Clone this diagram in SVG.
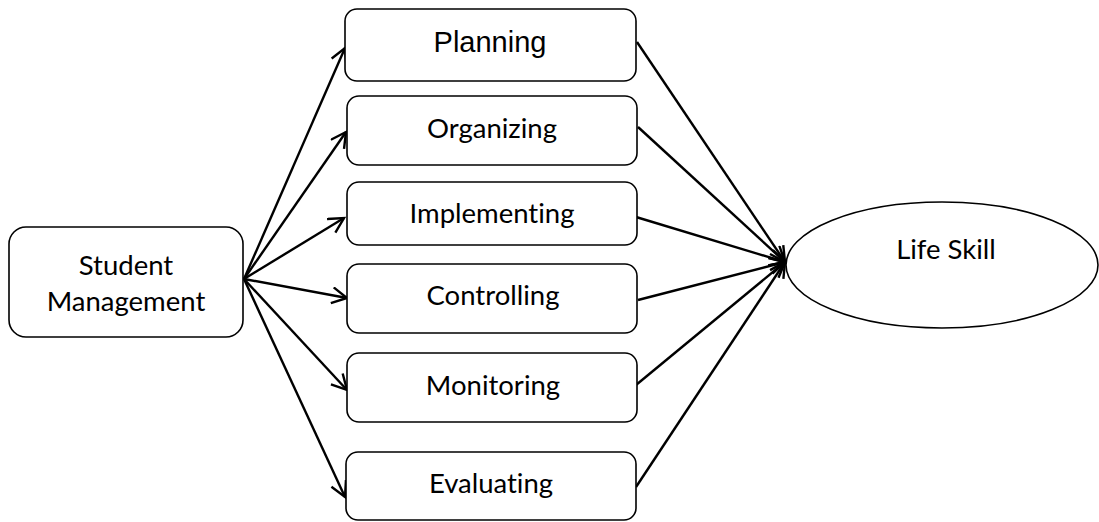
<svg xmlns="http://www.w3.org/2000/svg" width="1099" height="522" viewBox="0 0 1099 522">
<style>
.box{fill:#fff;stroke:#000;stroke-width:1.6}
.lbl{font-family:Lato,"Open Sans",sans-serif;font-size:27.5px;fill:#000;text-anchor:middle;font-variant-ligatures:none;font-feature-settings:"liga" 0}
.arial{font-family:"Liberation Sans",Arial,sans-serif;font-size:29px;fill:#000;text-anchor:middle}
.con{stroke:#000;stroke-width:2.4;fill:none;marker-end:url(#arr)}
</style>
<defs>
<marker id="arr" markerUnits="userSpaceOnUse" markerWidth="22" markerHeight="22" refX="16" refY="9" orient="auto">
<path d="M1,1 L16,9 L1,17" fill="none" stroke="#000" stroke-width="2.4"/>
</marker>
</defs>
<g id="connectors">
<line class="con" x1="244" y1="279" x2="345" y2="48"/>
<line class="con" x1="244" y1="279" x2="346" y2="132"/>
<line class="con" x1="244" y1="279" x2="344" y2="218"/>
<line class="con" x1="244" y1="279" x2="347" y2="298"/>
<line class="con" x1="244" y1="279" x2="347" y2="390"/>
<line class="con" x1="244" y1="279" x2="345" y2="497"/>
<line class="con" x1="637" y1="42" x2="785" y2="262"/>
<line class="con" x1="638" y1="127" x2="785" y2="262"/>
<line class="con" x1="636" y1="217" x2="785" y2="262"/>
<line class="con" x1="638" y1="300" x2="785" y2="262"/>
<line class="con" x1="636" y1="385" x2="785" y2="262"/>
<line class="con" x1="636" y1="487" x2="785" y2="262"/>
</g>
<g id="student-management">
<rect class="box" x="9" y="227" width="234" height="110" rx="17"/>
<text class="lbl" x="126" y="275">Student</text>
<text class="lbl" x="126" y="311">Management</text>
</g>
<g id="planning">
<rect class="box" x="345" y="9" width="291" height="72" rx="12"/>
<text class="arial" x="490" y="52">Planning</text>
</g>
<g id="organizing">
<rect class="box" x="347" y="96" width="290" height="69" rx="12"/>
<text class="lbl" x="492" y="138">Organizing</text>
</g>
<g id="implementing">
<rect class="box" x="347" y="182" width="290" height="63" rx="12"/>
<text class="lbl" x="492" y="223">Implementing</text>
</g>
<g id="controlling">
<rect class="box" x="347" y="264" width="290" height="69" rx="12"/>
<text class="lbl" x="493" y="305">Controlling</text>
</g>
<g id="monitoring">
<rect class="box" x="347" y="353" width="290" height="69" rx="12"/>
<text class="lbl" x="493" y="395">Monitoring</text>
</g>
<g id="evaluating">
<rect class="box" x="346" y="452" width="290" height="68" rx="12"/>
<text class="lbl" x="491" y="493">Evaluating</text>
</g>
<g id="life-skill">
<ellipse class="box" cx="942" cy="265" rx="156" ry="63"/>
<text class="lbl" x="946" y="259">Life Skill</text>
</g>
</svg>
